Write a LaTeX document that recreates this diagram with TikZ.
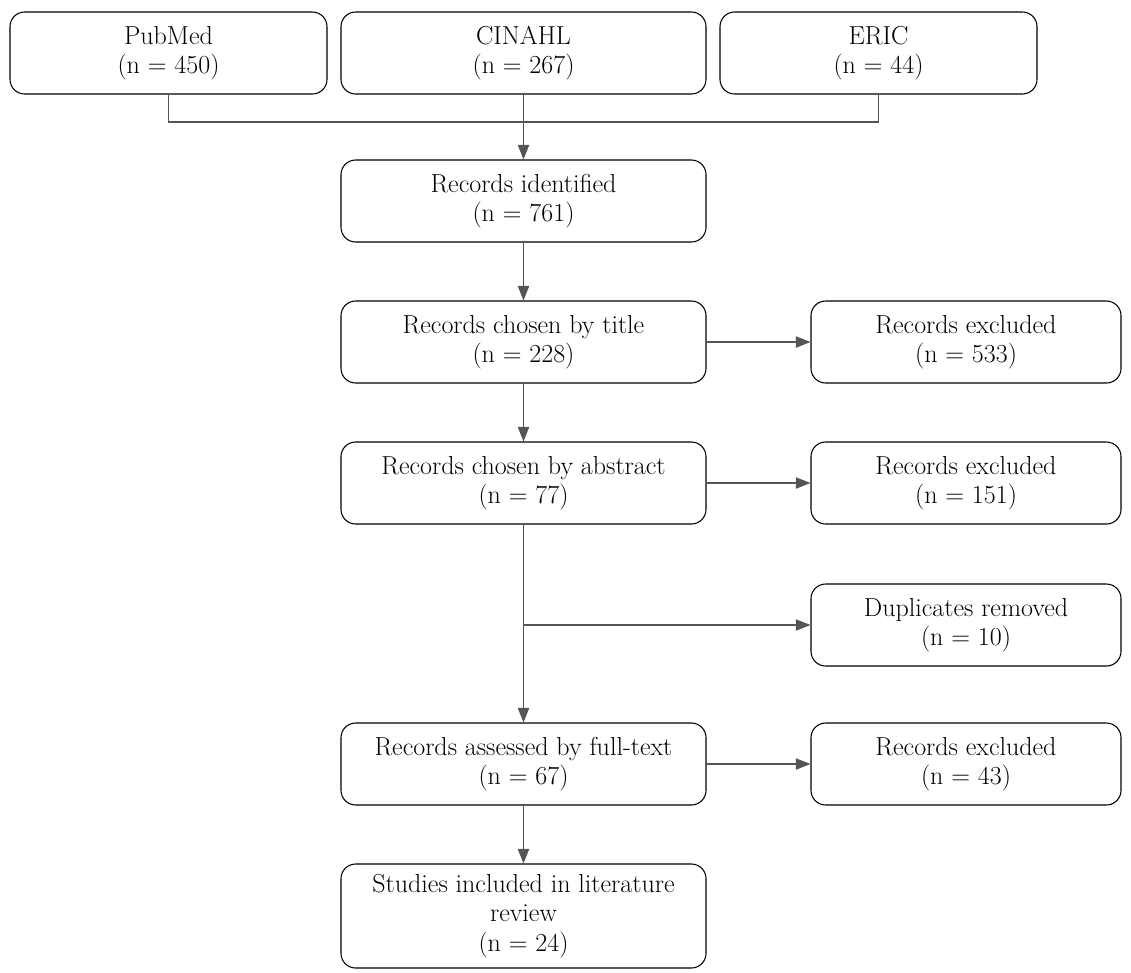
\documentclass[tikz,border=0pt]{standalone}
\usetikzlibrary{arrows.meta}
\definecolor{linegray}{HTML}{555555}
\begin{document}
\begin{tikzpicture}[x=0.75pt,y=-0.75pt,
  box/.style={draw=black, line width=0.8pt, rounded corners=11pt, minimum height=61.5pt,
    align=center, font=\fontsize{19.5}{22}\selectfont, inner sep=2pt},
  wide/.style={box, minimum width=273.75pt},
  src/.style={box, minimum width=237.75pt},
  side/.style={box, minimum width=232.5pt},
  conn/.style={draw=linegray, line width=0.9pt},
  arr/.style={conn, -{Triangle[length=11pt,width=8.5pt]}}]
\useasboundingbox (0,0) rectangle (1131,972);
\node[src]  (pub)  at (168.5,53)  {PubMed\\(n = 450)};
\node[wide] (cin)  at (523.5,53)  {CINAHL\\(n = 267)};
\node[src]  (eric) at (878.5,53)  {ERIC\\(n = 44)};
\node[wide] (rid)  at (523.5,201) {Records identified\\(n = 761)};
\node[wide] (tit)  at (523.5,342) {Records chosen by title\\(n = 228)};
\node[side] (ex1)  at (966,342)   {Records excluded\\(n = 533)};
\node[wide] (abs)  at (523.5,483) {Records chosen by abstract\\(n = 77)};
\node[side] (ex2)  at (966,483)   {Records excluded\\(n = 151)};
\node[side] (dup)  at (966,625)   {Duplicates removed\\(n = 10)};
\node[wide] (full) at (523.5,764) {Records assessed by full-text\\(n = 67)};
\node[side] (ex3)  at (966,764)   {Records excluded\\(n = 43)};
\node[wide, minimum height=78pt] (stud) at (523.5,916) {Studies included in literature\\review\\(n = 24)};
\coordinate (jn) at (523.5,122);
\draw[conn] (pub.south) |- (jn) -| (eric.south);
\draw[arr] (cin.south) -- (rid.north);
\draw[arr] (rid) -- (tit);
\draw[arr] (tit.east) -- (ex1.west);
\draw[arr] (tit) -- (abs);
\draw[arr] (abs.east) -- (ex2.west);
\draw[arr] (abs) -- (full);
\coordinate (dj) at (abs.south |- dup.west);
\draw[arr] (dj) -- (dup.west);
\draw[arr] (full.east) -- (ex3.west);
\draw[arr] (full) -- (stud);
\end{tikzpicture}
\end{document}
